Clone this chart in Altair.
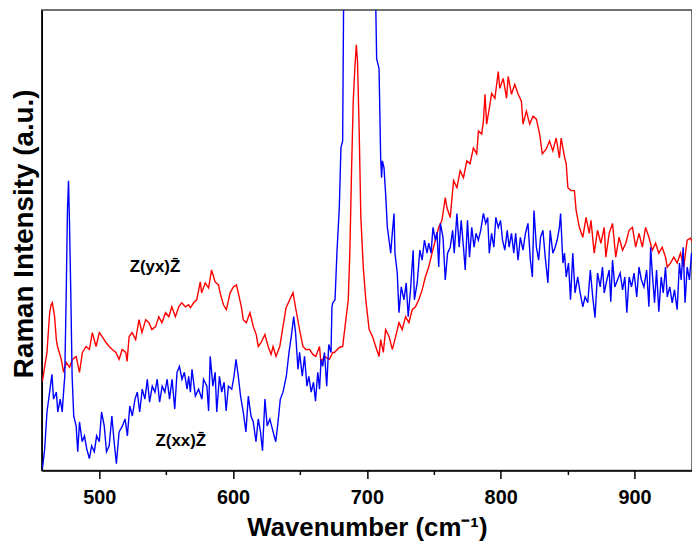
import altair as alt
import pandas as pd

# ---- data (wavenumber in cm^-1, intensity in arbitrary units) ----
red_wn = [457.5, 459.2, 460.9, 462.9, 464.0, 464.9, 466.6, 467.9, 468.8, 471.6, 473.3, 475.3, 477.7, 480.0,
          482.7, 485.2, 487.4, 490.1, 492.6, 494.8, 497.6, 500.0, 502.2, 505.0, 507.4, 509.7, 512.4, 514.8,
          517.1, 519.8, 520.8, 522.3, 524.5, 527.2, 529.7, 531.9, 534.7, 537.1, 539.3, 542.1, 544.5, 546.8,
          549.5, 552.0, 554.2, 556.9, 559.4, 561.6, 564.4, 566.8, 568.1, 570.5, 572.8, 575.5, 576.5, 579.2,
          581.7, 583.9, 586.6, 589.1, 590.3, 592.8, 595.0, 597.8, 600.2, 602.5, 603.9, 606.2, 607.6, 609.9,
          612.6, 615.1, 617.3, 618.8, 621.0, 623.8, 626.2, 628.4, 629.9, 632.1, 634.9, 637.3, 639.6, 642.3,
          644.8, 647.0, 649.7, 652.2, 654.4, 657.2, 659.6, 661.8, 664.6, 665.6, 668.3, 672.0, 674.5, 675.7,
          679.4, 681.9, 684.3, 686.1, 687.3, 688.6, 689.8, 691.0, 692.1, 693.0, 694.3, 695.5, 697.3, 699.2,
          701.7, 704.2, 706.6, 709.1, 710.3, 712.3, 714.0, 716.6, 719.0, 721.5, 724.0, 726.4, 728.9, 731.4,
          733.9, 736.3, 738.8, 741.3, 743.7, 746.2, 748.7, 751.2, 753.7, 756.1, 758.6, 759.8, 762.3, 764.8,
          767.3, 769.7, 772.2, 774.7, 777.1, 779.6, 782.1, 783.4, 785.8, 787.1, 788.3, 789.5, 792.0, 793.2,
          795.7, 798.2, 799.3, 801.9, 804.4, 805.6, 808.1, 810.5, 813.1, 815.5, 816.7, 819.2, 821.7, 824.2,
          826.7, 829.1, 831.1, 834.1, 836.5, 839.0, 841.5, 843.9, 845.2, 847.7, 849.0, 850.2, 852.6, 855.1,
          856.4, 858.8, 861.4, 863.8, 866.2, 867.5, 869.9, 872.4, 874.9, 877.4, 878.6, 881.1, 883.6, 886.0,
          888.5, 891.1, 893.5, 896.0, 898.5, 900.9, 903.4, 905.9, 908.3, 910.8, 913.3, 915.8, 918.2, 920.7,
          923.2, 924.5, 926.9, 929.4, 931.9, 934.4, 936.8, 939.4, 941.8, 943.8]
red_int = [90, 105, 119, 159, 167, 169, 155, 132, 125, 112, 99, 109, 104, 112,
           115, 99, 119, 125, 122, 139, 125, 139, 135, 129, 125, 122, 119, 112,
           122, 119, 110, 135, 139, 132, 152, 139, 152, 149, 142, 145, 155, 149,
           159, 155, 165, 155, 165, 169, 165, 167, 164, 169, 172, 190, 179, 189,
           184, 202, 190, 187, 179, 167, 162, 179, 185, 187, 179, 165, 152, 149,
           159, 145, 137, 125, 129, 137, 125, 117, 125, 115, 125, 145, 164, 172,
           179, 162, 142, 125, 122, 122, 117, 115, 125, 109, 115, 112, 119, 119,
           124, 125, 152, 172, 222, 305, 372, 405, 429, 412, 339, 255, 205, 172,
           142, 135, 125, 115, 132, 119, 142, 135, 122, 135, 149, 142, 155, 149,
           162, 165, 172, 182, 195, 205, 219, 232, 245, 252, 275, 265, 255, 292,
           285, 302, 295, 312, 309, 325, 319, 342, 339, 352, 379, 349, 369, 380,
           375, 402, 385, 395, 375, 397, 379, 389, 379, 372, 349, 362, 349, 357,
           354, 339, 319, 324, 332, 322, 335, 315, 335, 316, 309, 285, 282, 282,
           262, 245, 235, 255, 239, 252, 219, 242, 229, 245, 215, 239, 249, 215,
           235, 222, 229, 242, 245, 225, 239, 225, 245, 235, 222, 229, 219, 225,
           215, 205, 209, 215, 209, 219, 205, 232, 234, 229]

blue_wn = [457.5, 459.2, 460.9, 462.9, 464.6, 465.8, 467.9, 469.0, 470.8, 472.3, 473.3, 474.2, 475.3, 476.2,
           477.0, 477.7, 478.7, 479.7, 480.9, 482.7, 483.9, 485.2, 487.2, 488.9, 490.6, 492.6, 494.3, 496.3,
           498.0, 500.0, 501.7, 503.7, 505.4, 507.4, 509.4, 511.1, 512.8, 514.8, 517.3, 519.3, 521.0, 522.8,
           524.7, 526.7, 528.4, 530.2, 532.1, 534.1, 535.9, 537.6, 539.6, 541.6, 543.3, 545.1, 547.0, 549.0,
           550.7, 552.5, 554.4, 556.4, 558.1, 559.9, 561.8, 563.6, 565.6, 566.8, 568.1, 569.3, 571.8, 574.2,
           576.7, 577.9, 580.4, 581.7, 582.9, 584.9, 586.6, 587.8, 589.8, 591.5, 593.3, 594.8, 596.5, 599.0,
           600.7, 602.2, 603.9, 605.6, 607.6, 609.6, 611.4, 613.4, 615.1, 617.1, 618.8, 620.5, 622.0, 623.8,
           625.5, 627.5, 629.9, 631.9, 633.6, 635.3, 637.3, 639.8, 641.8, 643.5, 645.3, 646.7, 648.5, 649.7,
           651.7, 653.4, 655.2, 656.6, 658.4, 660.1, 661.6, 663.3, 664.6, 665.8, 667.0, 668.3, 670.0, 671.5,
           673.2, 673.9, 674.5, 676.2, 677.7, 679.4, 680.6, 681.9, 682.6, 684.0, 688.0, 694.0, 700.0, 704.0,
           706.6, 707.3, 709.1, 710.3, 711.0, 711.6, 712.8, 714.0, 715.3, 716.6, 717.8, 719.0, 720.3, 721.0,
           722.7, 724.0, 725.7, 727.7, 729.4, 730.9, 732.6, 734.6, 735.5, 737.6, 739.6, 741.3, 743.0, 745.0,
           746.2, 748.0, 749.4, 751.2, 752.4, 753.7, 754.9, 756.9, 758.6, 760.3, 762.3, 764.1, 765.3, 767.3,
           769.0, 770.5, 772.2, 773.5, 775.2, 776.7, 778.4, 780.1, 781.6, 783.3, 785.1, 787.1, 788.8, 790.3,
           791.5, 793.2, 794.9, 796.4, 798.2, 799.9, 801.4, 803.1, 804.9, 806.3, 808.1, 809.8, 811.2, 813.0,
           814.7, 816.7, 818.5, 820.4, 822.2, 823.7, 824.9, 826.7, 828.4, 829.8, 831.6, 833.3, 835.3, 837.0,
           839.0, 840.7, 842.2, 843.9, 844.8, 846.5, 847.7, 849.0, 850.7, 852.2, 853.9, 855.6, 857.6, 859.4,
           861.4, 863.1, 865.1, 867.0, 868.8, 870.5, 872.4, 874.4, 876.1, 877.4, 879.4, 881.1, 882.3, 883.6,
           885.3, 887.3, 889.3, 891.1, 892.8, 894.3, 896.0, 897.8, 899.7, 901.7, 903.4, 905.2, 907.1, 909.1,
           910.8, 912.1, 913.3, 915.0, 916.5, 918.2, 920.0, 921.5, 923.2, 924.5, 926.4, 928.2, 929.9, 931.9,
           933.6, 934.9, 936.4, 937.8, 939.4, 941.1, 942.6, 943.8]
blue_int = [2, 22, 59, 79, 97, 72, 79, 59, 72, 59, 79, 95, 179, 262,
            292, 252, 179, 95, 55, 45, 19, 49, 29, 35, 22, 12, 25, 19,
            35, 29, 59, 45, 19, 25, 55, 29, 7, 39, 45, 52, 35, 65,
            55, 72, 79, 59, 82, 72, 92, 69, 85, 79, 92, 69, 85, 79,
            92, 72, 92, 62, 99, 105, 92, 99, 82, 95, 79, 102, 75, 82,
            72, 92, 85, 60, 115, 85, 99, 59, 95, 79, 89, 60, 85, 82,
            95, 112, 95, 75, 59, 39, 75, 55, 49, 29, 52, 39, 20, 72,
            45, 52, 39, 29, 49, 72, 79, 95, 119, 135, 155, 139, 102, 119,
            95, 115, 85, 95, 79, 89, 70, 99, 82, 112, 105, 119, 85, 127,
            119, 165, 169, 172, 222, 265, 325, 332, 470, 560, 660, 700, 680, 600,
            472, 415, 405, 315, 295, 312, 305, 279, 245, 232, 219, 239, 259, 219,
            199, 159, 185, 172, 189, 155, 182, 222, 172, 189, 222, 212, 232, 219,
            229, 219, 245, 232, 240, 205, 249, 235, 192, 219, 225, 242, 219, 259,
            225, 252, 225, 202, 252, 215, 245, 225, 239, 232, 242, 259, 249, 255,
            219, 239, 225, 255, 245, 252, 232, 222, 242, 225, 239, 219, 239, 212,
            235, 222, 239, 249, 212, 195, 262, 225, 212, 235, 242, 215, 189, 242,
            219, 225, 232, 245, 259, 209, 219, 195, 209, 172, 219, 179, 195, 179,
            165, 175, 169, 202, 175, 154, 199, 185, 205, 179, 192, 202, 170, 212,
            185, 192, 199, 182, 195, 159, 195, 185, 199, 175, 205, 192, 185, 202,
            165, 225, 199, 169, 202, 160, 195, 179, 205, 175, 185, 169, 182, 162,
            209, 192, 225, 169, 205, 192, 219, 209]

label_text = ["Z(yx)Z\u0304", "Z(xx)Z\u0304"]
label_wn = [541.6, 560.9]
label_int = [205, 30]

x_ticks = [500, 550, 600, 650, 700, 750, 800, 850, 900]
x_domain = [457, 943]
y_domain = [0, 464]

FONT = "Liberation Sans"

red_df = pd.DataFrame({"wn": red_wn, "I": red_int})
blue_df = pd.DataFrame({"wn": blue_wn, "I": blue_int})
lab_df = pd.DataFrame({"label": label_text, "wn": label_wn, "I": label_int})

x_scale = alt.Scale(domain=x_domain, nice=False, zero=False)
y_scale = alt.Scale(domain=y_domain, nice=False, zero=False)

x_axis = alt.Axis(
    title="Wavenumber (cm\u207b\u00b9)",
    values=x_ticks,
    labelExpr="datum.value % 100 === 0 ? datum.label : ''",
    tickSize={"condition": {"test": "datum.value % 100 !== 0", "value": 4}, "value": 8},
    tickColor="black",
    tickWidth=1.5,
    domainColor="black",
    domainWidth=1.5,
    grid=False,
    labelFont=FONT,
    labelFontSize=20,
    labelFontWeight="bold",
    labelColor="black",
    labelPadding=9,
    titleFont=FONT,
    titleFontSize=26,
    titleFontWeight="bold",
    titleColor="black",
    titlePadding=7,
)

y_axis = alt.Axis(
    title="Raman Intensity (a.u.)",
    labels=False,
    ticks=False,
    grid=False,
    domainColor="black",
    domainWidth=1.5,
    titleFont=FONT,
    titleFontSize=28,
    titleFontWeight="bold",
    titleColor="black",
    titlePadding=3,
    titleY=225,
)

red_line = alt.Chart(red_df).mark_line(color="#ff0000", strokeWidth=1.4, clip=True).encode(
    x=alt.X("wn:Q", scale=x_scale, axis=x_axis),
    y=alt.Y("I:Q", scale=y_scale, axis=y_axis),
)
blue_line = alt.Chart(blue_df).mark_line(color="#0000ff", strokeWidth=1.4, clip=True).encode(
    x=alt.X("wn:Q", scale=x_scale),
    y=alt.Y("I:Q", scale=y_scale),
)
labels = alt.Chart(lab_df).mark_text(font=FONT, fontSize=17, fontWeight="bold", color="black").encode(
    x=alt.X("wn:Q", scale=x_scale),
    y=alt.Y("I:Q", scale=y_scale),
    text="label:N",
)

chart = alt.layer(red_line, blue_line, labels).properties(
    width=655,
    height=464,
    padding={"left": 34, "top": 0, "right": 0, "bottom": 70},
    autosize=alt.AutoSizeParams(type="none"),
).configure_view(stroke="#444444", strokeWidth=1.5)

chart.save("out.html", embed_options={"renderer": "svg", "actions": False})
